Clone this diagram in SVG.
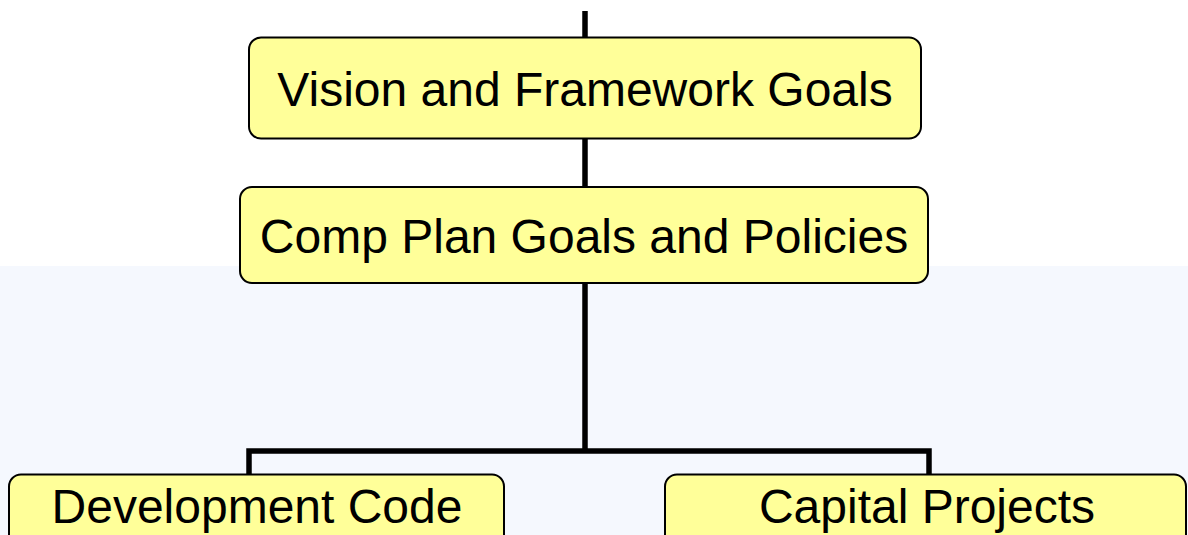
<svg xmlns="http://www.w3.org/2000/svg" width="1188" height="535" viewBox="0 0 1188 535">
<style>
.box{fill:#FFFF99;stroke:#000;stroke-width:2}
.lbl{font-family:"Liberation Sans",Arial,sans-serif;font-size:48px;fill:#000;text-anchor:middle}
.con{stroke:#000;stroke-width:5.5;fill:none}
</style>
<rect x="0" y="0" width="1188" height="535" fill="#FFFFFF"/>
<rect x="0" y="266" width="1188" height="269" fill="#F5F8FE"/>
<g id="connectors">
<line class="con" x1="585" y1="11" x2="585" y2="38"/>
<line class="con" x1="585" y1="138" x2="585" y2="187"/>
<line class="con" x1="585" y1="283" x2="585" y2="451"/>
<polyline class="con" points="249,475 249,451 929,451 929,475"/>
</g>
<g id="node-vision">
<rect class="box" x="249" y="37.5" width="672" height="101" rx="12"/>
<text class="lbl" x="585" y="106">Vision and Framework Goals</text>
</g>
<g id="node-comp">
<rect class="box" x="240" y="187" width="688" height="96" rx="12"/>
<text class="lbl" x="584" y="253">Comp Plan Goals and Policies</text>
</g>
<g id="node-dev">
<rect class="box" x="9" y="474.5" width="495" height="100" rx="12"/>
<text class="lbl" x="257" y="523">Development Code</text>
</g>
<g id="node-cap">
<rect class="box" x="665" y="474.5" width="521" height="100" rx="12"/>
<text class="lbl" x="927" y="523">Capital Projects</text>
</g>
</svg>
